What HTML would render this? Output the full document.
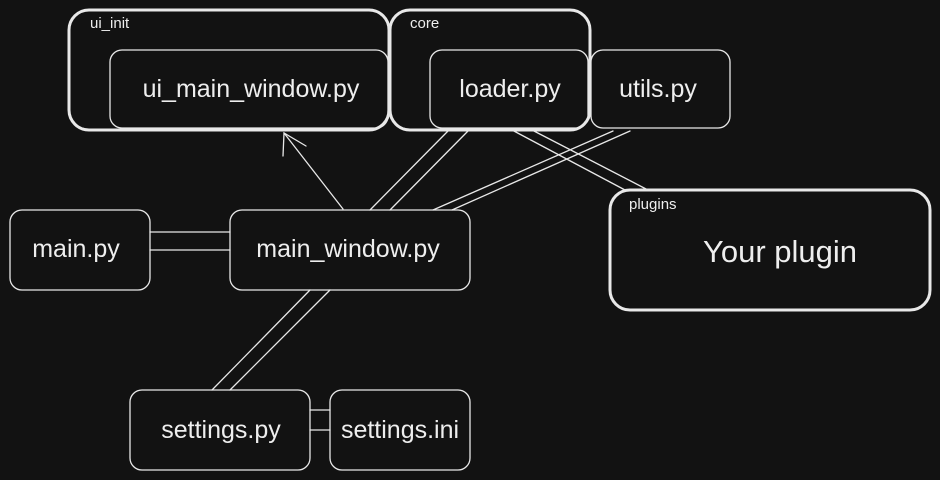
<!DOCTYPE html>
<html><head><meta charset="utf-8"><style>
html,body{margin:0;padding:0;background:#121212;width:940px;height:480px;overflow:hidden}
svg{display:block}
text{font-family:"Liberation Sans",sans-serif;fill:#eee}
</style></head><body>
<svg width="940" height="480" viewBox="0 0 940 480">
<rect width="940" height="480" fill="#121212"/>
<g fill="none" stroke="#e8e8e8" stroke-linecap="round">
<!-- groups -->
<rect x="69" y="10" width="320" height="120" rx="20" stroke-width="3"/>
<rect x="390" y="10" width="200" height="120" rx="20" stroke-width="3"/>
<rect x="610" y="190" width="320" height="120" rx="20" stroke-width="3"/>
<!-- boxes -->
<g stroke-width="1.3">
<rect x="110" y="50" width="278" height="78" rx="12"/>
<rect x="430" y="50" width="158" height="78" rx="12"/>
<rect x="591" y="50" width="139" height="78" rx="12"/>
<rect x="10" y="210" width="140" height="80" rx="12"/>
<rect x="230" y="210" width="240" height="80" rx="12"/>
<rect x="130" y="390" width="180" height="80" rx="12"/>
<rect x="330" y="390" width="140" height="80" rx="12"/>
<!-- connectors -->
<line x1="150" y1="232" x2="230" y2="232"/>
<line x1="150" y1="250" x2="230" y2="250"/>
<line x1="343" y1="209" x2="284" y2="133"/>
<polyline points="283,156 284,133 306,146"/>
<line x1="370" y1="210" x2="448" y2="131"/>
<line x1="390" y1="210" x2="468" y2="131"/>
<line x1="433" y1="210" x2="613" y2="131"/>
<line x1="452" y1="210" x2="630" y2="131"/>
<line x1="512" y1="130" x2="625" y2="190"/>
<line x1="532" y1="130" x2="648" y2="190"/>
<line x1="310" y1="290" x2="212" y2="390"/>
<line x1="330" y1="290" x2="230" y2="390"/>
<line x1="310" y1="410" x2="330" y2="410"/>
<line x1="310" y1="430" x2="330" y2="430"/>
</g>
</g>
<text x="90" y="28" font-size="15">ui_init</text>
<text x="410" y="28" font-size="15">core</text>
<text x="629" y="209" font-size="15">plugins</text>
<g font-size="25" text-anchor="middle">
<text x="251" y="97">ui_main_window.py</text>
<text x="510" y="97">loader.py</text>
<text x="658" y="97">utils.py</text>
<text x="76" y="257">main.py</text>
<text x="348" y="257">main_window.py</text>
<text x="221" y="438">settings.py</text>
<text x="400" y="438">settings.ini</text>
<text x="780" y="262" font-size="31">Your plugin</text>
</g>
</svg>
</body></html>
